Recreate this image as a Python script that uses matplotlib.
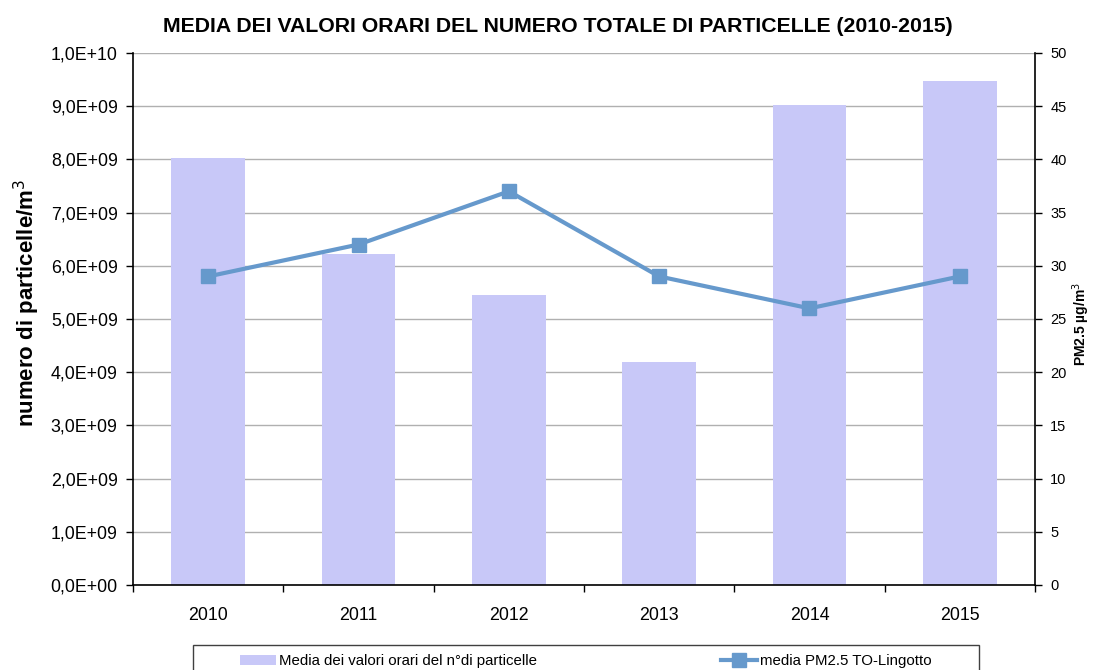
import matplotlib
matplotlib.use("Agg")
import matplotlib.pyplot as plt
from matplotlib.lines import Line2D
from matplotlib.patches import Patch, Rectangle
from matplotlib.ticker import FuncFormatter, MultipleLocator
import numpy as np

plt.rcParams['font.family'] = ['Liberation Sans', 'DejaVu Sans']

# data
years = ['2010', '2011', '2012', '2013', '2014', '2015']
particles = [8.03e9, 6.22e9, 5.45e9, 4.19e9, 9.03e9, 9.47e9]
pm25 = [29, 32, 37, 29, 26, 29]

bar_color = '#C8C8F8'
line_color = '#6699CC'

fig = plt.figure(figsize=(10.96, 6.70), dpi=100)
ax = fig.add_axes([133/1096, 1 - 585/670, (1035 - 133)/1096, (585 - 53)/670])

x = np.arange(len(years))
ax.bar(x, particles, width=0.49, color=bar_color, zorder=2)
ax.set_xlim(-0.5, len(years) - 0.5)
ax.set_ylim(0, 1e10)
ax.yaxis.set_major_locator(MultipleLocator(1e9))
ax.yaxis.set_major_formatter(FuncFormatter(lambda v, p: f'{v:.1E}'.replace('.', ',')))
ax.grid(True, axis='y', color='#B0B0B0', linewidth=1.0, zorder=0)
ax.set_axisbelow(True)

ax.set_xticks(x)
ax.set_xticklabels(years)
ax.set_xticks(np.arange(-0.5, len(years)), minor=True)
ax.tick_params(axis='x', which='major', length=0, pad=16, labelsize=12.8)
ax.tick_params(axis='x', which='minor', length=5, width=1, direction='out')
ax.tick_params(axis='y', length=5, width=1, direction='out', labelsize=12.8, pad=6)

for side in ['left', 'bottom']:
    ax.spines[side].set_linewidth(1.2)
ax.spines['top'].set_visible(False)
ax.spines['right'].set_visible(False)

ax.set_ylabel('numero di particelle/m$^3$', fontsize=16, fontweight='bold')
ax.yaxis.set_label_coords(-(133 - 42)/902, 0.53)

ax2 = ax.twinx()
ax2.plot(x, pm25, color=line_color, linewidth=3.0, marker='s', markersize=10.5,
         markeredgecolor=line_color, zorder=3)
ax2.set_ylim(0, 50)
ax2.yaxis.set_major_locator(MultipleLocator(5))
ax2.tick_params(axis='y', length=5, width=1, direction='out', labelsize=10.5, pad=6)
ax2.spines['right'].set_linewidth(1.2)
ax2.spines['top'].set_visible(False)
ax2.spines['left'].set_visible(False)
ax2.spines['bottom'].set_visible(False)
ax2.set_ylabel('PM2.5 µg/m$^3$', fontsize=10, fontweight='bold')
ax2.yaxis.set_label_coords(1 + (1070 - 1035)/902, 1 - (324 - 53)/532)

fig.text(558/1096, 1 - 27/670,
         'MEDIA DEI VALORI ORARI DEL NUMERO TOTALE DI PARTICELLE (2010-2015)',
         ha='center', va='center', fontsize=15.3, fontweight='bold')

# legend below the chart
handles = [Patch(facecolor=bar_color, edgecolor='none'),
           Line2D([0], [0], color=line_color, linewidth=3.0, marker='s',
                  markersize=10.5, markeredgecolor=line_color)]
labels = ['Media dei valori orari del n°di particelle', 'media PM2.5 TO-Lingotto']
fig.legend(handles, labels, loc='center', bbox_to_anchor=(586/1096, 1 - 661/670),
           ncol=2, frameon=False, fontsize=10.8, handlelength=2.4, handletextpad=0.2,
           columnspacing=12.3)
fig.patches.append(Rectangle((193/1096, -0.05), (979 - 193)/1096, 0.05 + (670 - 645)/670,
                             transform=fig.transFigure, fill=False,
                             edgecolor='#404040', linewidth=1.0))

fig.savefig('out.png', dpi=100)
